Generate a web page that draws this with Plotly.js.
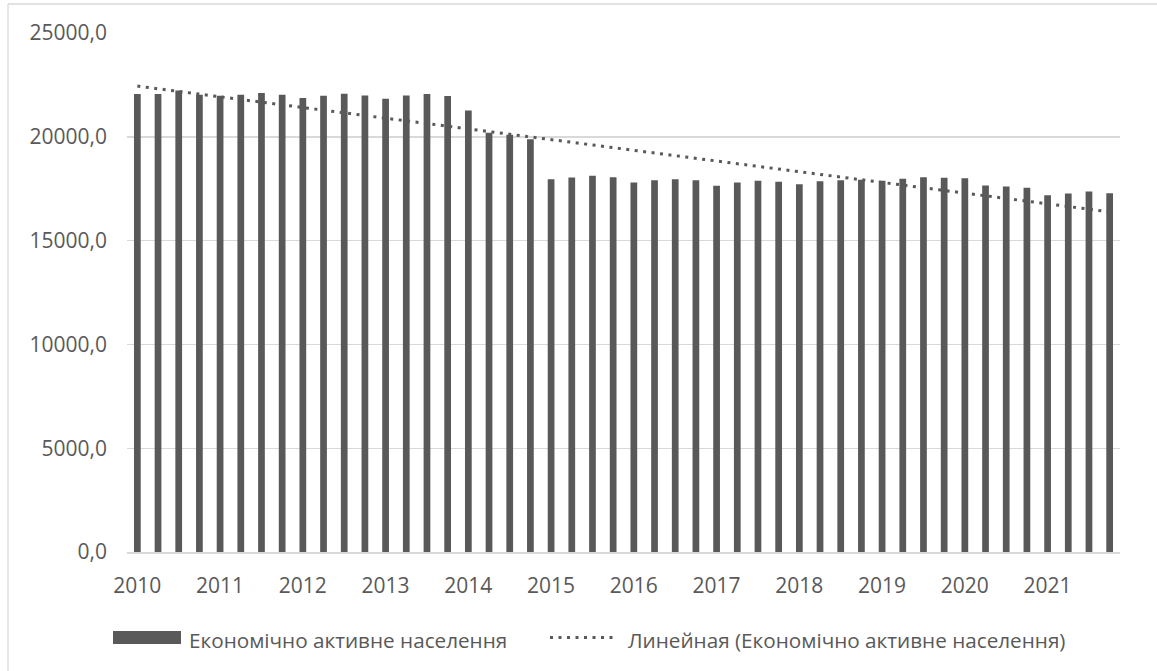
<!DOCTYPE html>
<html>
<head>
<meta charset="utf-8">
<script src="https://cdn.plot.ly/plotly-3.0.1.min.js"></script>
<style>
  html, body { margin: 0; padding: 0; background: #ffffff; }
  #chart { width: 1157px; height: 671px; }
</style>
</head>
<body>
<div id="chart"></div>
<script>
// ---- data ----
const years = ['2010','2011','2012','2013','2014','2015','2016','2017','2018','2019','2020','2021'];
const quarters = ['I','II','III','IV'];
const activePopulation = [
  22057, 22057, 22234, 22025,
  21977, 22025, 22105, 22025,
  21864, 21977, 22073, 21993,
  21832, 21993, 22057, 21961,
  21269, 20200, 20096, 19887,
  17959, 18039, 18119, 18055,
  17798, 17911, 17959, 17911,
  17637, 17798, 17878, 17830,
  17718, 17860, 17911, 17927,
  17878, 17975, 18055, 18023,
  18007, 17653, 17605, 17541,
  17188, 17268, 17364, 17284
];
const seriesName = 'Економічно активне населення';
const trendName = 'Линейная (Економічно активне населення)';

// ---- derived ----
const categoryLabels = [];
years.forEach(y => quarters.forEach(q => categoryLabels.push(y + ' ' + q)));
const xIdx = activePopulation.map((_, i) => i);
const tickVals = years.map((_, i) => i * quarters.length);

// least-squares linear trend (Excel "Linear" trendline)
const n = activePopulation.length;
const mx = xIdx.reduce((a, b) => a + b, 0) / n;
const my = activePopulation.reduce((a, b) => a + b, 0) / n;
let sxy = 0, sxx = 0;
for (let i = 0; i < n; i++) { sxy += (xIdx[i] - mx) * (activePopulation[i] - my); sxx += (xIdx[i] - mx) ** 2; }
const slope = sxy / sxx, intercept = my - slope * mx;
const trendX = [xIdx[0], xIdx[n - 1]];
const trendY = trendX.map(x => intercept + slope * x);

// ---- layout geometry ----
const W = 1157, H = 671;
const M = { l: 127, r: 37, t: 33, b: 119 };
const pw = W - M.l - M.r, ph = H - M.t - M.b;
const px = x => (x - M.l) / pw;
const py = y => (H - M.b - y) / ph;

const grey = '#595959';
const font = { family: '"Open Sans", "Noto Sans", sans-serif', size: 21, color: grey };
const legendFont = { family: '"Open Sans", "Noto Sans", sans-serif', size: 20.7, color: grey };
const dotDash = '3px,5.5px';

const traces = [
  {
    type: 'bar', x: xIdx, y: activePopulation, name: seriesName,
    text: categoryLabels, hoverinfo: 'text+y',
    marker: { color: '#595959' }, showlegend: false
  },
  {
    type: 'scatter', mode: 'lines', x: trendX, y: trendY, name: trendName,
    line: { color: grey, width: 3, dash: dotDash }, showlegend: false, hoverinfo: 'skip'
  }
];

const layout = {
  width: W, height: H,
  margin: M,
  paper_bgcolor: '#ffffff', plot_bgcolor: '#ffffff',
  separators: ', ',
  font: font,
  bargap: 0.675,
  showlegend: false,
  xaxis: {
    range: [-0.5, n - 0.5],
    tickmode: 'array', tickvals: tickVals, ticktext: years,
    showgrid: false, zeroline: false,
    showline: true, linecolor: '#d9d9d9', linewidth: 1.5,
    ticks: '', ticklabelstandoff: 14,
    tickfont: font, fixedrange: true
  },
  yaxis: {
    range: [0, 25000], dtick: 5000, tick0: 0,
    tickformat: '.1f',
    showgrid: true, gridcolor: '#d9d9d9', gridwidth: 1.4,
    zeroline: false, showline: false,
    ticks: '', ticklabelstandoff: 19,
    tickfont: font, fixedrange: true
  },
  shapes: [
    // chart frame (left and top edges visible)
    { type: 'line', xref: 'paper', yref: 'paper', x0: px(8), x1: px(8), y0: py(4), y1: py(H + 5), line: { color: '#d9d9d9', width: 1.3 } },
    { type: 'line', xref: 'paper', yref: 'paper', x0: px(8), x1: px(W + 5), y0: py(4), y1: py(4), line: { color: '#d9d9d9', width: 1.3 } },
    // legend symbols
    { type: 'rect', xref: 'paper', yref: 'paper', x0: px(113), x1: px(181), y0: py(644), y1: py(631), fillcolor: '#595959', line: { width: 0 } },
    { type: 'line', xref: 'paper', yref: 'paper', x0: px(550), x1: px(617), y0: py(637.5), y1: py(637.5), line: { color: grey, width: 3, dash: dotDash } }
  ],
  annotations: [
    { xref: 'paper', yref: 'paper', x: px(187), y: py(640), xanchor: 'left', yanchor: 'middle', text: seriesName, showarrow: false, font: legendFont },
    { xref: 'paper', yref: 'paper', x: px(626), y: py(640), xanchor: 'left', yanchor: 'middle', text: trendName, showarrow: false, font: legendFont }
  ]
};

Plotly.newPlot('chart', traces, layout, { displayModeBar: false, staticPlot: true });
</script>
</body>
</html>
